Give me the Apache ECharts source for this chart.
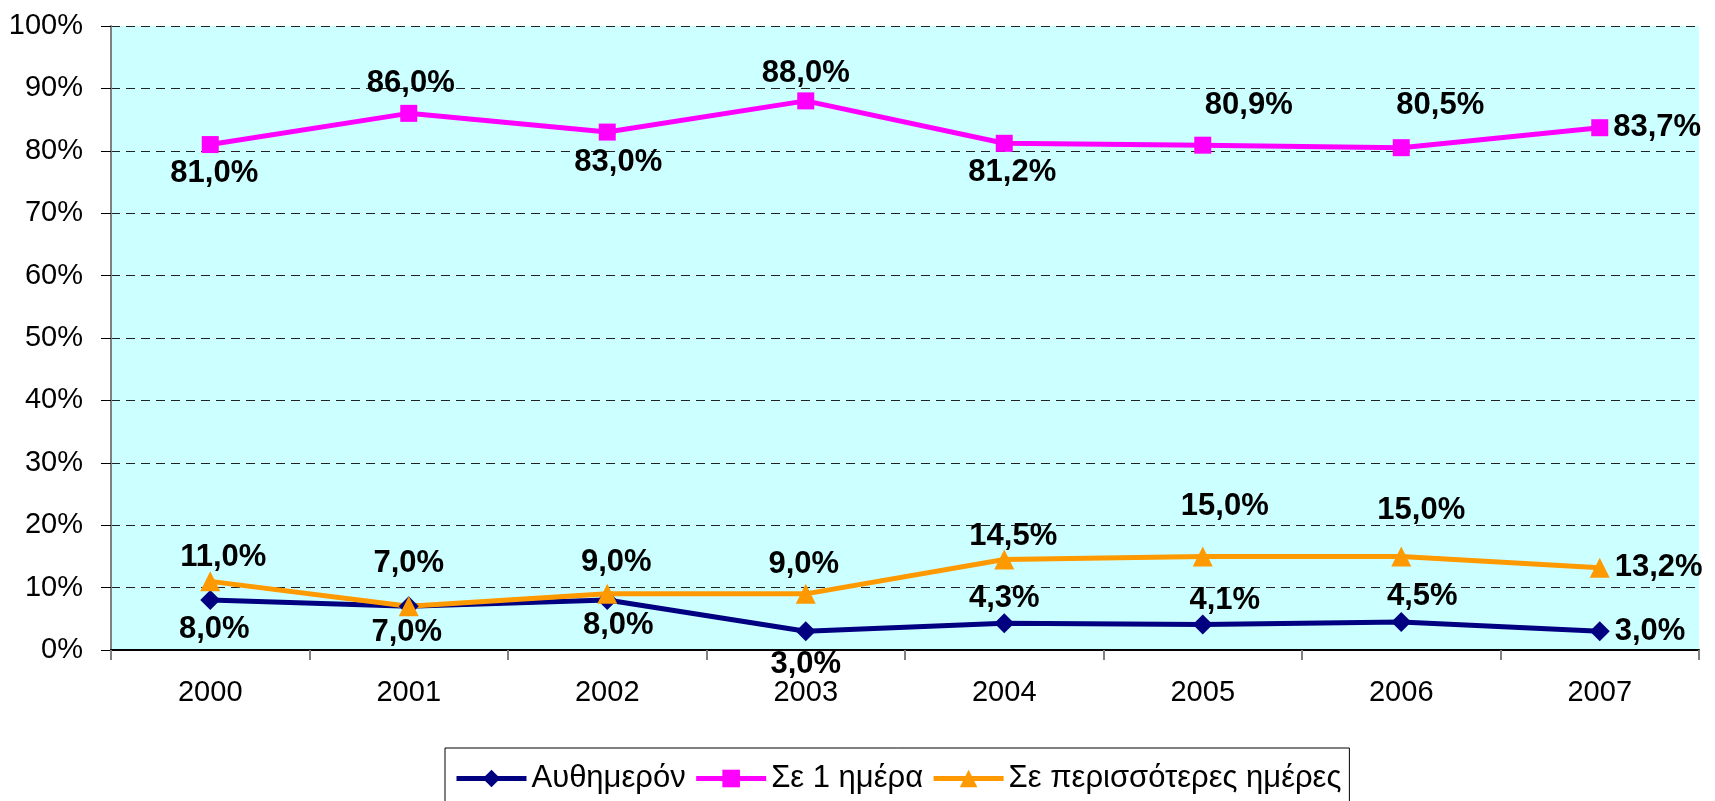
<!DOCTYPE html>
<html>
<head>
<meta charset="utf-8">
<script src="https://cdn.jsdelivr.net/npm/echarts@6/dist/echarts.min.js"></script>
<style>
  html, body { margin: 0; padding: 0; background: #fff; }
  #chart { width: 1715px; height: 801px; }
</style>
</head>
<body>
<div id="chart"></div>
<script>
  const years = ['2000', '2001', '2002', '2003', '2004', '2005', '2006', '2007'];
  const sameDay = [8.0, 7.0, 8.0, 3.0, 4.3, 4.1, 4.5, 3.0];
  const oneDay = [81.0, 86.0, 83.0, 88.0, 81.2, 80.9, 80.5, 83.7];
  const moreDays = [11.0, 7.0, 9.0, 9.0, 14.5, 15.0, 15.0, 13.2];

  // label placement per point: [dx, dy] from the marker centre, or 'right'
  const sameDayLabelPos = [[4, 29], [-2, 26], [11, 25], [0, 33], [0, -25], [22, -24], [21, -25], 'right'];
  const oneDayLabelPos = [[4, 29], [2, -30], [11, 30], [0, -27], [8, 29], [46, -40], [39, -42], 'right'];
  const moreDaysLabelPos = [[13, -24], [0, -43], [9, -31], [-2, -29], [9, -23], [22, -50], [20, -46], 'right'];

  const FONT = '"Liberation Sans", Arial, sans-serif';
  const fmt = (v) => v.toFixed(1).replace('.', ',') + '%';

  function withLabels(values, placement) {
    return values.map((v, i) => {
      const p = placement[i];
      const label = p === 'right'
        ? { position: 'right', distance: 5 }
        : { position: 'inside', offset: p };
      return { value: v, label };
    });
  }

  function lineSeries(name, values, placement, color, symbol, size) {
    return {
      name,
      type: 'line',
      data: withLabels(values, placement),
      symbol,
      symbolSize: size,
      lineStyle: { color, width: 5 },
      itemStyle: { color },
      label: {
        show: true,
        formatter: (p) => fmt(p.value),
        color: '#000',
        fontFamily: FONT,
        fontWeight: 'bold',
        fontSize: 31,
      },
      z: 3,
    };
  }

  const chart = echarts.init(document.getElementById('chart'), null, { renderer: 'canvas' });
  chart.setOption({
    animation: false,
    backgroundColor: '#fff',
    grid: {
      left: 111, right: 16, top: 26, bottom: 151,
      show: true, backgroundColor: '#CCFFFF', borderWidth: 0,
    },
    legend: {
      left: 445,
      top: 748,
      padding: [15, 8, 12, 9],
      itemGap: 8,
      itemWidth: 70,
      itemHeight: 22,
      borderColor: '#000',
      borderWidth: 1,
      backgroundColor: '#fff',
      lineStyle: { width: 5 },
      textStyle: { fontFamily: FONT, fontSize: 31, color: '#000' },
      data: ['Αυθημερόν', 'Σε 1 ημέρα', 'Σε περισσότερες ημέρες'],
    },
    xAxis: {
      type: 'category',
      data: years,
      boundaryGap: true,
      axisLine: { lineStyle: { color: '#000', width: 2 } },
      axisTick: { show: true, length: 10, lineStyle: { color: '#808080', width: 2 } },
      axisLabel: { fontFamily: FONT, fontSize: 29, color: '#000', margin: 28 },
    },
    yAxis: {
      type: 'value',
      min: 0,
      max: 100,
      interval: 10,
      axisLine: { show: true, lineStyle: { color: '#808080', width: 2 } },
      axisTick: { show: true, length: 10, lineStyle: { color: '#000', width: 1 } },
      axisLabel: {
        fontFamily: FONT, fontSize: 29, color: '#000', margin: 28,
        formatter: (v) => v + '%',
      },
      splitLine: { lineStyle: { color: '#222', type: [9, 6], width: 1 } },
    },
    series: [
      lineSeries('Αυθημερόν', sameDay, sameDayLabelPos, '#000080', 'diamond', 20),
      lineSeries('Σε 1 ημέρα', oneDay, oneDayLabelPos, '#FF00FF', 'rect', 17),
      lineSeries('Σε περισσότερες ημέρες', moreDays, moreDaysLabelPos, '#FF9900', 'triangle', 20),
    ],
  });
</script>
</body>
</html>
